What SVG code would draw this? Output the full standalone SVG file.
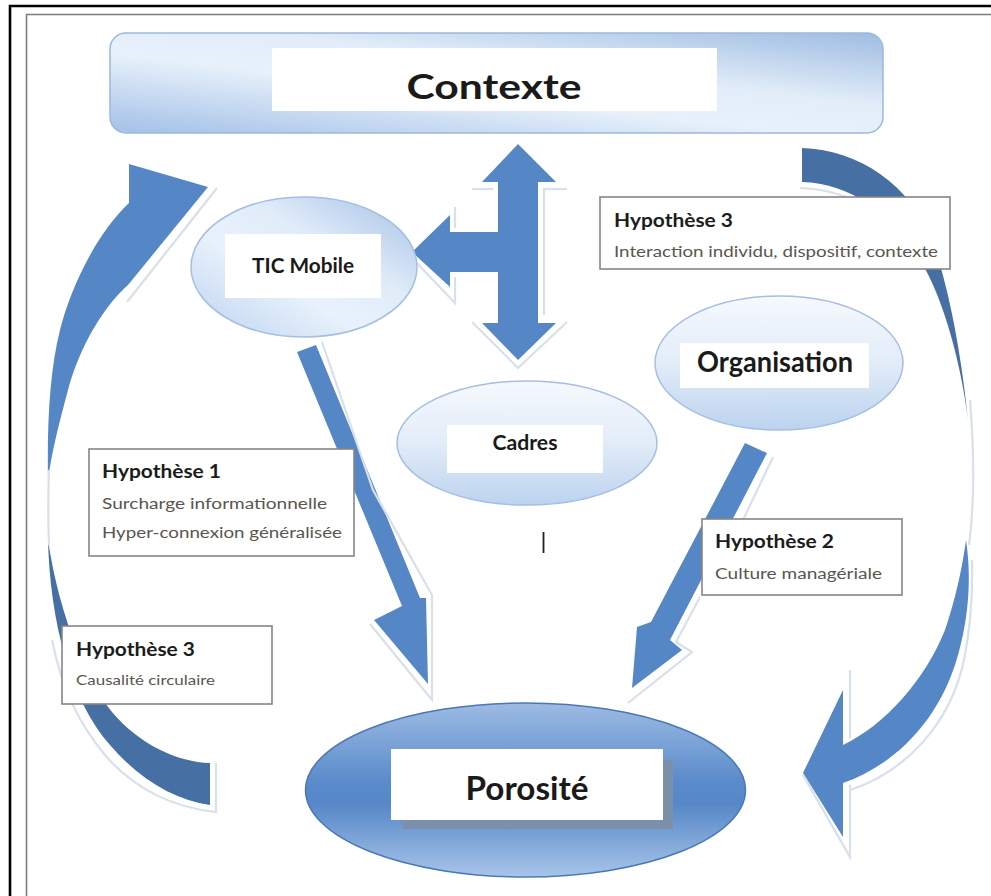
<svg xmlns="http://www.w3.org/2000/svg" width="991" height="896" viewBox="0 0 991 896">
<defs>
  <linearGradient id="gCtx" x1="0.05" y1="1" x2="0.95" y2="0">
    <stop offset="0" stop-color="#a6c3e8"/>
    <stop offset="0.42" stop-color="#e8f1fb"/>
    <stop offset="0.62" stop-color="#e2edf9"/>
    <stop offset="1" stop-color="#a2bfe3"/>
  </linearGradient>
  <linearGradient id="gTic" x1="0" y1="1" x2="1" y2="0">
    <stop offset="0" stop-color="#bcd2ef"/>
    <stop offset="0.4" stop-color="#e9f2fc"/>
    <stop offset="0.62" stop-color="#e1ecf9"/>
    <stop offset="1" stop-color="#a3c0e5"/>
  </linearGradient>
  <linearGradient id="gLight" x1="0" y1="0" x2="0" y2="1">
    <stop offset="0" stop-color="#f6f9fe"/>
    <stop offset="0.5" stop-color="#e2ecf8"/>
    <stop offset="1" stop-color="#bcd3ef"/>
  </linearGradient>
  <linearGradient id="gPor" x1="0" y1="0" x2="0" y2="1">
    <stop offset="0" stop-color="#9dbbe3"/>
    <stop offset="0.45" stop-color="#5a8bcb"/>
    <stop offset="0.58" stop-color="#5687c8"/>
    <stop offset="1" stop-color="#a8c5e9"/>
  </linearGradient>
</defs>
<style>
  .arrow{fill:#5587c7}
  .back{fill:#4670a3}
  .bevel{fill:none;stroke:#d8e0ea;stroke-width:2.2}
  .hbox{fill:#ffffff;stroke:#858585;stroke-width:1.6}
  .lbl{fill:#ffffff}
  .ttl{font-family:Lato,"Open Sans","Liberation Sans",sans-serif;font-weight:bold;fill:#1c1c1c}
  .sub{font-family:Lato,"Open Sans","Liberation Sans",sans-serif;fill:#5a5550}
  .node{font-family:Lato,"Open Sans","Liberation Sans",sans-serif;font-weight:bold;fill:#1a1a1a;text-anchor:middle}
</style>
<rect x="0" y="0" width="991" height="896" fill="#ffffff"/>

<g id="frame">
  <path d="M10,896 L10,6 L991,6" fill="none" stroke="#000" stroke-width="2.6"/>
  <path d="M26.5,896 L26.5,14.5 L991,14.5" fill="none" stroke="#7d7d7d" stroke-width="1.6"/>
</g>

<g id="connectors">
  <!-- left circular arrow -->
  <path class="back" d="M48,540 C50,620 70,700 110,745 C140,780 175,800 210,805 L210,763 C178,762 140,745 112,712 C88,682 60,620 48,540 Z"/>
  <path class="bevel" d="M216,763 L216,812 C175,808 135,790 105,755 C80,725 62,690 52,640"/>
  <path class="arrow" d="M129,164 L208,187 L128,285 C105,305 80,345 68,390 C60,420 52,450 48,480 C47,420 50,370 60,330 C70,290 95,235 129,203 Z"/>
  <path class="bevel" d="M217,188 L127,302"/>
  <path class="bevel" d="M49,470 C48,500 48,520 49,545" stroke-width="2"/>

  <!-- right circular arrow -->
  <path class="back" d="M802,148 C860,150 910,185 932,240 C950,290 962,360 968,420 C962,370 945,300 920,260 C895,215 850,183 802,182 Z"/>
  <path class="bevel" d="M800,188 C850,190 895,215 922,262"/>
  <path class="bevel" d="M970,400 C974,450 975,500 969,545" stroke-width="2"/>
  <path class="arrow" d="M843,690 L843,745 C885,725 925,680 945,630 C955,600 962,570 966,540 C972,580 968,620 958,655 C940,720 895,765 843,783 L843,837 L803,773 Z"/>
  <path class="bevel" d="M850,670 L850,738"/>
  <path class="bevel" d="M850,785 L850,857 L803,775"/>
  <path class="bevel" d="M850,790 C905,772 950,725 964,660 C970,630 973,600 972,560"/>

  <!-- TIC Mobile -> Porosite -->
  <path class="arrow" d="M297,352 L316,345 L420,598 L426,598 L428,684 L374,620 L402,606 Z"/>
  <path class="bevel" d="M322,342 L373,490 L432,595 L432,700 L370,624"/>

  <!-- Organisation -> Porosite -->
  <path class="arrow" d="M745,443 L767,453 L670,640 L682,650 L632,688 L637,627 L651,622 Z"/>
  <path class="bevel" d="M773,457 L743,520"/>
  <path class="bevel" d="M700,597 L676,642 L692,652 L628,703"/>

  <!-- Contexte / TIC Mobile / Cadres -->
  <path class="arrow" d="M518,144 L556,182 L538,182 L538,323 L556,323 L518,360 L482,323 L498,323 L498,272 L450,272 L450,287 L412,252 L450,215 L450,232 L498,232 L498,182 L482,182 Z"/>
  <path class="bevel" d="M472,189 L493,189"/>
  <path class="bevel" d="M543,189 L567,189"/>
  <path class="bevel" d="M544,189 L544,315"/>
  <path class="bevel" d="M455,207 L455,228"/>
  <path class="bevel" d="M455,277 L455,303 L410,256"/>
  <path class="bevel" d="M567,322 L518,368 L472,322"/>
</g>

<g id="contexte">
  <rect x="110" y="33" width="773" height="100" rx="16" fill="url(#gCtx)" stroke="#9cb8dc" stroke-width="1.5"/>
  <rect class="lbl" x="272" y="48" width="445" height="63"/>
  <text class="node" x="494" y="99" font-size="35" textLength="175" lengthAdjust="spacingAndGlyphs">Contexte</text>
</g>

<g id="tic-mobile">
  <ellipse cx="304" cy="267" rx="113" ry="70" fill="url(#gTic)" stroke="#a4bfe2" stroke-width="1.5"/>
  <rect class="lbl" x="225" y="234" width="156" height="64"/>
  <text class="node" x="303" y="273" font-size="21" textLength="102" lengthAdjust="spacingAndGlyphs">TIC Mobile</text>
</g>

<g id="cadres">
  <ellipse cx="527" cy="443" rx="130" ry="62" fill="url(#gLight)" stroke="#a4bfe2" stroke-width="1.5"/>
  <rect class="lbl" x="447" y="425" width="156" height="48"/>
  <text class="node" x="525" y="450" font-size="21" textLength="65" lengthAdjust="spacingAndGlyphs">Cadres</text>
</g>

<line x1="543.5" y1="532" x2="543.5" y2="553" stroke="#222" stroke-width="1.8"/>

<g id="organisation">
  <ellipse cx="779" cy="363" rx="124" ry="67" fill="url(#gLight)" stroke="#a4bfe2" stroke-width="1.5"/>
  <rect class="lbl" x="680" y="343" width="189" height="45"/>
  <text class="node" x="775" y="372" font-size="28" textLength="156" lengthAdjust="spacingAndGlyphs">Organisation</text>
</g>

<g id="porosite">
  <ellipse cx="525.5" cy="790" rx="220" ry="87" fill="url(#gPor)" stroke="#4a78b5" stroke-width="1.5"/>
  <rect x="402" y="760" width="271" height="69" fill="#7c8fab"/>
  <rect class="lbl" x="391" y="749" width="272" height="71"/>
  <text class="node" x="527" y="800" font-size="32" textLength="123" lengthAdjust="spacingAndGlyphs">Porosité</text>
</g>

<g id="hyp3-top">
  <rect class="hbox" x="600" y="197" width="350" height="72"/>
  <text class="ttl" x="614" y="227" font-size="18" textLength="119" lengthAdjust="spacingAndGlyphs">Hypothèse 3</text>
  <text class="sub" x="614" y="257" font-size="15.5" textLength="324" lengthAdjust="spacingAndGlyphs">Interaction individu, dispositif, contexte</text>
</g>

<g id="hyp1">
  <rect class="hbox" x="89" y="449" width="265" height="107"/>
  <text class="ttl" x="102" y="478" font-size="18" textLength="119" lengthAdjust="spacingAndGlyphs">Hypothèse 1</text>
  <text class="sub" x="102" y="509" font-size="15.5" textLength="225" lengthAdjust="spacingAndGlyphs">Surcharge informationnelle</text>
  <text class="sub" x="102" y="538" font-size="15.5" textLength="240" lengthAdjust="spacingAndGlyphs">Hyper-connexion généralisée</text>
</g>

<g id="hyp3-left">
  <rect class="hbox" x="62" y="626" width="210" height="78"/>
  <text class="ttl" x="76" y="656" font-size="18" textLength="119" lengthAdjust="spacingAndGlyphs">Hypothèse 3</text>
  <text class="sub" x="76" y="685" font-size="13.5" textLength="139" lengthAdjust="spacingAndGlyphs">Causalité circulaire</text>
</g>

<g id="hyp2">
  <rect class="hbox" x="702" y="519" width="200" height="76"/>
  <text class="ttl" x="715" y="548" font-size="18" textLength="119" lengthAdjust="spacingAndGlyphs">Hypothèse 2</text>
  <text class="sub" x="715" y="579" font-size="15.5" textLength="167" lengthAdjust="spacingAndGlyphs">Culture managériale</text>
</g>
</svg>
